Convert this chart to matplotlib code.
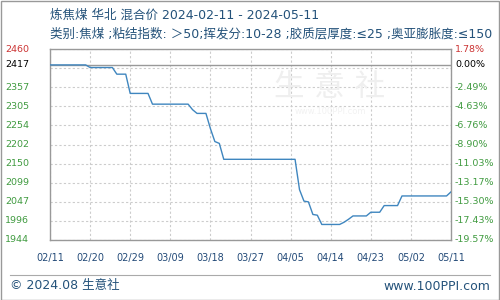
import matplotlib
matplotlib.use("Agg")
import matplotlib.pyplot as plt
import matplotlib.dates as mdates
import numpy as np
import pandas as pd

plt.rcParams['font.family'] = ['DejaVu Sans', 'Noto Sans CJK SC']

title1 = "炼焦煤 华北 混合价 2024-02-11 - 2024-05-11"
title2 = "类别:焦煤 ;粘结指数: ＞50;挥发分:10-28 ;胶质层厚度:≤25 ;奥亚膨胀度:≤150"

dates = ["2024-02-11", "2024-02-19", "2024-02-20", "2024-02-25", "2024-02-26",
         "2024-02-28", "2024-02-29", "2024-03-04", "2024-03-05", "2024-03-13",
         "2024-03-14", "2024-03-15", "2024-03-17", "2024-03-18", "2024-03-19",
         "2024-03-20", "2024-03-21", "2024-04-06", "2024-04-07", "2024-04-08",
         "2024-04-09", "2024-04-10", "2024-04-11", "2024-04-12", "2024-04-16",
         "2024-04-17", "2024-04-18", "2024-04-19", "2024-04-22", "2024-04-23",
         "2024-04-25", "2024-04-26", "2024-04-29", "2024-04-30", "2024-05-10",
         "2024-05-11"]
prices = [2417, 2417, 2410, 2410, 2392,
          2392, 2340, 2340, 2311, 2311,
          2296, 2286, 2286, 2245, 2210,
          2205, 2162, 2162, 2080, 2049,
          2047, 2013, 2011, 1986, 1986,
          1992, 2000, 2009, 2009, 2019,
          2019, 2037, 2037, 2063, 2063,
          2074]

base_price = 2417
y_max = 2460
y_min = 1944
x_ticks = ["2024-02-11", "2024-02-20", "2024-02-29", "2024-03-09", "2024-03-18",
           "2024-03-27", "2024-04-05", "2024-04-14", "2024-04-23", "2024-05-02",
           "2024-05-11"]

W, H = 500, 300
fig = plt.figure(figsize=(5, 3), dpi=100)
fig.patch.set_facecolor('white')

ax = fig.add_axes([50 / W, 1 - 240 / H, 401 / W, 191 / H])
d = pd.to_datetime(dates)
xt = pd.to_datetime(x_ticks)

ax.plot(d, prices, color='#3f86bf', lw=1.0, zorder=3)
ax.axhline(base_price, color='#999999', lw=1.0, zorder=2)

ax.set_xlim(xt[0], xt[-1])
ax.set_ylim(y_min, y_max)

grid_vals = np.linspace(y_max, y_min, 11)
ax.set_yticks(grid_vals)
ax.set_xticks(xt)
ax.grid(True, color='#cccccc', ls=(0, (2, 2)), lw=0.8)
ax.tick_params(axis='both', length=0, labelleft=False, labelbottom=False)

for s in ax.spines.values():
    s.set_color('#999999')
    s.set_linewidth(1.0)

# x tick labels
for t, lab in zip(xt, [x.strftime('%m/%d') for x in xt]):
    ax.annotate(lab, xy=(mdates.date2num(t), 0), xycoords=('data', 'axes fraction'),
                xytext=(0, -13), textcoords='offset points', ha='center', va='center',
                fontsize=7, color='#234a78')

# y labels (left price, right percent)
red = '#cc3333'
green = '#3f9a3f'
for i, v in enumerate(grid_vals):
    if i == 1:
        val = base_price
        col = 'black'
    elif i == 0:
        val = v
        col = red
    else:
        val = v
        col = green
    yfrac = (val - y_min) / (y_max - y_min)
    ypix = 240 - yfrac * 191
    fig.text(5 / W, 1 - ypix / H, f"{val:.0f}", ha='left', va='center',
             fontsize=6.8, color=col)
    pct = (val / base_price - 1) * 100
    fig.text(455 / W, 1 - ypix / H, f"{pct:.2f}%", ha='left', va='center',
             fontsize=6.8, color=col)

# titles
fig.text(50 / W, 1 - 15 / H, title1, ha='left', va='center', fontsize=9,
         color='#24527a')
fig.text(50 / W, 1 - 34 / H, title2, ha='left', va='center', fontsize=9,
         color='#24527a')

# watermark
fig.text(330 / W, 1 - 88 / H, "生 意 社", ha='center', va='center', fontsize=22,
         color='#efefef', zorder=0)
fig.text(330 / W, 1 - 112 / H, "www.100PPI.com", ha='center', va='center',
         fontsize=6, color='#f2f2f2', zorder=0)

# footer
fig.add_artist(plt.Line2D([10 / W, 490 / W], [1 - 275 / H, 1 - 275 / H],
                          color='#aaaaaa', lw=0.8))
fig.text(10 / W, 1 - 286 / H, "© 2024.08 生意社", ha='left', va='center',
         fontsize=9, color='#24527a')
fig.text(490 / W, 1 - 286 / H, "www.100PPI.com", ha='right', va='center',
         fontsize=9, color='#24527a')

# outer border
fig.add_artist(plt.Rectangle((0.5 / W, 0.5 / H), 1 - 1.5 / W, 1 - 1.5 / H,
                             fill=False, edgecolor='#999999', lw=1.0))

fig.savefig('out.png', dpi=100)
